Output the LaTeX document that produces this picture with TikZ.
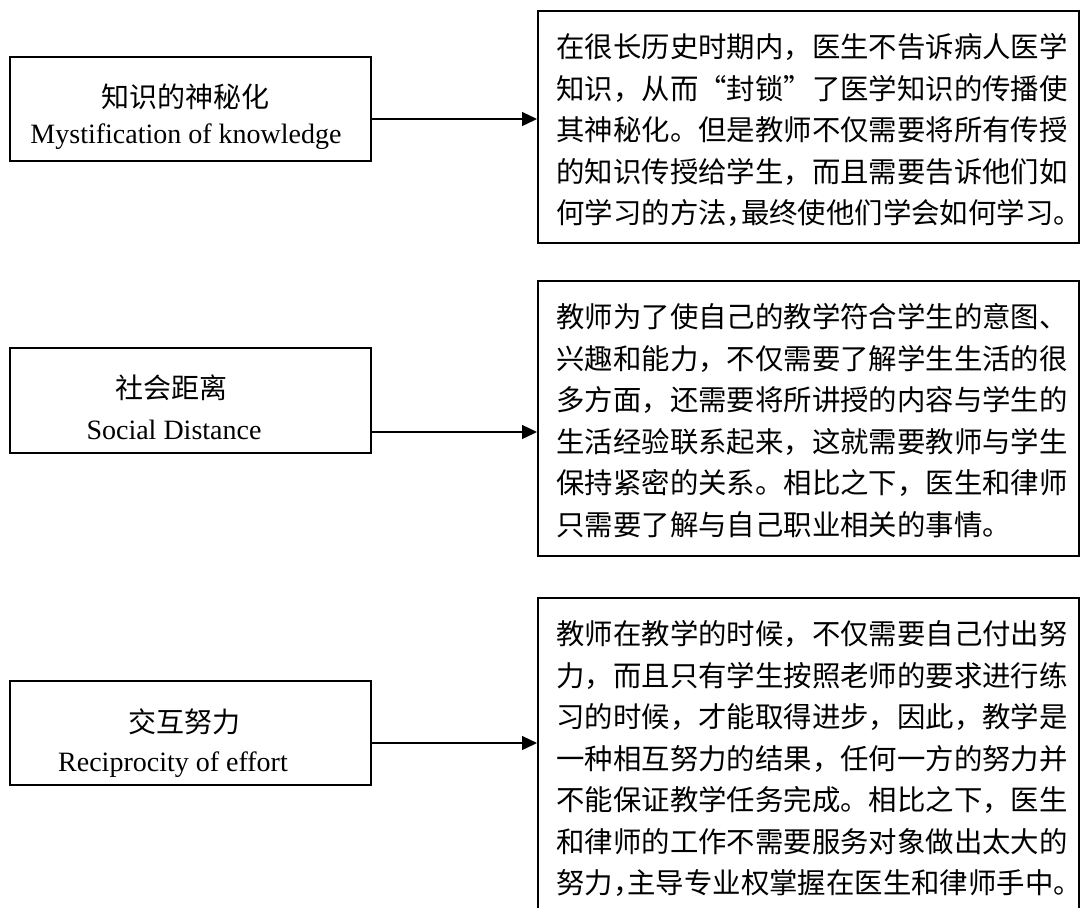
\documentclass[tikz,border=0pt]{standalone}
\usepackage{fontspec}
\setmainfont{Liberation Serif}
\newfontfamily\cjk{Noto Sans CJK SC}
\usetikzlibrary{arrows.meta,fit}
\newcommand{\myhc}{\makebox[0.5em][l]{，}}
\newcommand{\mylq}{\makebox[1em][r]{“}}
\newcommand{\myrq}{\makebox[1em][l]{”}}
\begin{document}
\begin{tikzpicture}[x=0.5pt,y=-0.5pt,
  box/.style={draw, line width=1pt, inner sep=0pt, rectangle},
  conn/.style={draw, line width=0.65pt, -{Triangle[length=7.5pt,width=7pt]}},
  body/.style={font=\cjk\fontsize{14.2pt}{20.75pt}\selectfont, align=left, inner sep=0pt, anchor=north west},
  cn/.style={font=\cjk\fontsize{14pt}{20pt}\selectfont, inner sep=0pt},
  en/.style={font=\fontsize{14pt}{20pt}\selectfont, inner sep=0pt}]
\clip (0,0) rectangle (1080,907);
\fill[white] (0,0) rectangle (1080,907);

% left boxes
\node[box, fit={(10,57) (371,161)}] (l1) {};
\node[box, fit={(10,348) (371,453)}] (l2) {};
\node[box, fit={(10,681) (371,785)}] (l3) {};

\node[cn] (c1) at (185,97) {知识的神秘化};
\node[en] (e1) at (186,137) {Mystification of knowledge};
\node[cn] (c2) at (171,388) {社会距离};
\node[en] (e2) at (174,430) {Social Distance};
\node[cn] (c3) at (184,722) {交互努力};
\node[en] (e3) at (173,765) {Reciprocity of effort};

% right boxes
\node[box, fit={(538,11) (1078.5,243)}] (r1) {};
\node[box, fit={(538,281) (1078.5,556)}] (r2) {};
\node[box, fit={(538,598) (1078.5,940)}] (r3) {};

\node[body] (t1) at (556,33) {在很长历史时期内，医生不告诉病人医学\\
知识，从而\mylq 封锁\myrq 了医学知识的传播使\\
其神秘化。但是教师不仅需要将所有传授\\
的知识传授给学生，而且需要告诉他们如\\
何学习的方法\myhc 最终使他们学会如何学习。};

\node[body] (t2) at (556,303) {教师为了使自己的教学符合学生的意图、\\
兴趣和能力，不仅需要了解学生生活的很\\
多方面，还需要将所讲授的内容与学生的\\
生活经验联系起来，这就需要教师与学生\\
保持紧密的关系。相比之下，医生和律师\\
只需要了解与自己职业相关的事情。};

\node[body] (t3) at (556,620) {教师在教学的时候，不仅需要自己付出努\\
力，而且只有学生按照老师的要求进行练\\
习的时候，才能取得进步，因此，教学是\\
一种相互努力的结果，任何一方的努力并\\
不能保证教学任务完成。相比之下，医生\\
和律师的工作不需要服务对象做出太大的\\
努力\myhc 主导专业权掌握在医生和律师手中。};

% arrows
\coordinate (a1) at (0,119);
\coordinate (a2) at (0,432);
\coordinate (a3) at (0,743);
\draw[conn] (l1.east |- a1) -- (r1.west |- a1);
\draw[conn] (l2.east |- a2) -- (r2.west |- a2);
\draw[conn] (l3.east |- a3) -- (r3.west |- a3);
\end{tikzpicture}
\end{document}
